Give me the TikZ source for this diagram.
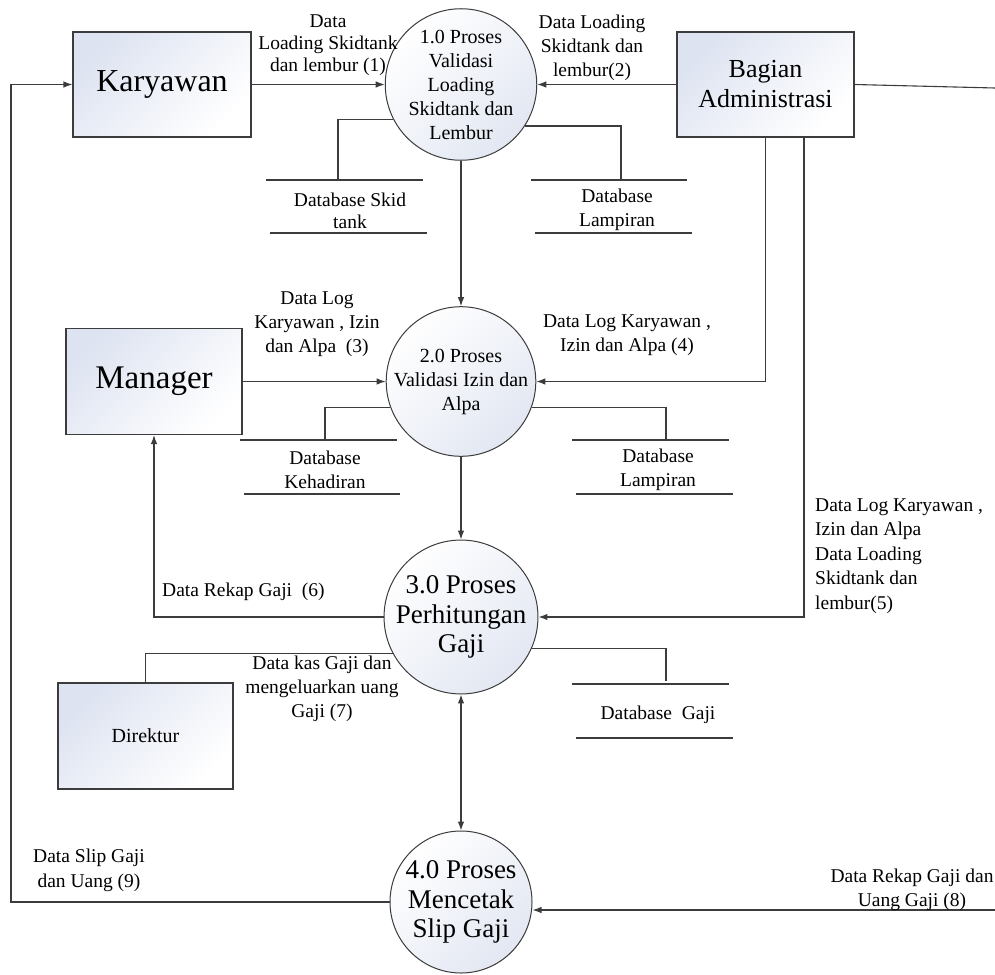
\documentclass[tikz,border=0pt]{standalone}
\usepackage{fontspec}
\setmainfont{Liberation Serif}
\usetikzlibrary{arrows.meta}
\definecolor{ln}{HTML}{3C3C3C}
\definecolor{boxblue}{HTML}{DDE3F1}
\definecolor{circblue}{HTML}{E2E7F2}
\begin{document}
\begin{tikzpicture}[x=1pt,y=-1pt,
  ent/.style={draw=ln, line width=1.1pt, top color=boxblue, bottom color=white, shading angle=45, align=center, inner sep=0pt},
  proc/.style={circle, draw=ln, line width=1pt, top color=white, bottom color=circblue, shading angle=45, align=center, inner sep=0pt, minimum size=144pt},
  lbl/.style={align=center, inner sep=0pt, font=\fontsize{19.5}{24}\selectfont},
  ptxt/.style={font=\fontsize{20}{24}\selectfont},
  pbig/.style={font=\fontsize{27}{29.5}\selectfont},
  flow/.style={draw=ln, line width=1.1pt, -{Latex[length=9pt,width=6.5pt]}},
  bflow/.style={draw=ln, line width=1.1pt, {Latex[length=9pt,width=6.5pt]}-{Latex[length=9pt,width=6.5pt]}},
  conn/.style={draw=ln, line width=1.1pt},
  storeline/.style={draw=ln, line width=1.3pt}
]
\useasboundingbox (0,0) rectangle (995,974);

% entities
\node[ent, minimum width=178pt, minimum height=105pt, font=\fontsize{32}{36}\selectfont] (kar) at (162,84.5) {Karyawan};
\node[ent, minimum width=177pt, minimum height=105pt, font=\fontsize{26}{30}\selectfont] (adm) at (765.5,84.5) {Bagian\\Administrasi};
\node[ent, minimum width=176pt, minimum height=106pt, font=\fontsize{33}{36}\selectfont] (man) at (154,381.5) {Manager};
\node[ent, minimum width=175pt, minimum height=106pt, font=\fontsize{20}{24}\selectfont] (dir) at (145.5,736) {Direktur};

% processes
\node[proc, ptxt] (c1) at (461,84.5) {1.0 Proses\\Validasi\\Loading\\Skidtank dan\\Lembur};
\node[proc, ptxt] (c2) at (461,381.5) {2.0 Proses\\Validasi Izin dan\\Alpa};
\node[proc, pbig, minimum size=143pt] (c3) at (461,617) {3.0 Proses\\Perhitungan\\Gaji};
\node[proc, pbig, minimum size=142pt] (c4) at (461,902) {4.0 Proses\\Mencetak\\Slip Gaji};

% data stores
\draw[storeline] (266,180) -- (423,180) (270,233) -- (427,233);
\node[lbl, font=\fontsize{19.5}{22}\selectfont] (s1) at (350,211) {Database Skid\\tank};
\draw[storeline] (531,180) -- (687,180) (535,233) -- (692,233);
\node[lbl, font=\fontsize{19.5}{24}\selectfont] (s2) at (617,210) {Database\\Lampiran};
\draw[storeline] (240,440) -- (397,440) (244,494) -- (400,494);
\node[lbl] (s3) at (325,470) {Database\\Kehadiran};
\draw[storeline] (572,440) -- (729,440) (576,494) -- (733,494);
\node[lbl] (s4) at (658,470) {Database\\Lampiran};
\draw[storeline] (572,684) -- (729,684) (576,738) -- (733,738);
\node[lbl] (s5) at (658,715) {Database\ \ Gaji};

\coordinate (s1t) at (338,180);
\coordinate (s2t) at (621,180);
\coordinate (s3t) at (325,440);
\coordinate (s4t) at (666,440);
\coordinate (s5t) at (666,681);

\draw[conn] (c1.207) -| (s1t);
\draw[conn] (c1.327) -| (s2t);
\draw[conn] (c2.200) -| (s3t);
\draw[conn] (c2.340) -| (s4t);
\draw[conn] (c3.336) -| (s5t);

% flows
\draw[flow] (kar.east) -- (c1.west);
\draw[flow] (adm.west) -- (c1.east);
\coordinate (offR) at (995,88);
\draw[conn] (adm.east) -- (offR);
\draw[flow] (c1.south) -- (c2.north);
\draw[flow] (c2.south) -- (c3.north);
\draw[bflow] (c3.south) -- (c4.north);
\draw[flow] (man.east) -- (c2.west);
\draw[flow] (adm.south) |- (c2.east);
\draw[flow] ([xshift=38.5pt]adm.south) |- (c3.east);
\draw[flow] (c3.west) -| (man.south);
\draw[conn] (c3.208) -| (dir.north);
\coordinate (lp) at (11,0);
\draw[flow] (c4.west) -- (c4.west -| lp) |- (kar.west);
\coordinate (r8) at (995,910);
\draw[flow] (r8) -- (r8 -| c4.east);

% labels
\node[lbl, font=\fontsize{19.5}{22}\selectfont] (l1) at (328,45) {Data\\Loading Skidtank\\dan lembur (1)};
\node[lbl] (l2) at (592,48) {Data Loading\\Skidtank dan\\lembur(2)};
\node[lbl] (l3) at (317,324) {Data Log\\Karyawan , Izin\\dan Alpa\ \ (3)};
\node[lbl] (l4) at (627,335) {Data Log Karyawan ,\\Izin dan Alpa (4)};
\node[lbl, align=left, anchor=west, font=\fontsize{19.5}{24.5}\selectfont] (l5) at (815,556) {Data Log Karyawan ,\\Izin dan Alpa\\Data Loading\\Skidtank dan\\lembur(5)};
\node[lbl, anchor=west] (l6) at (162,592) {Data Rekap Gaji\ \ (6)};
\node[lbl] (l7) at (322,689) {Data kas Gaji dan\\mengeluarkan uang\\Gaji (7)};
\node[lbl] (l8) at (912,890) {Data Rekap Gaji dan\\Uang Gaji (8)};
\node[lbl, font=\fontsize{19.5}{25}\selectfont] (l9) at (89,870) {Data Slip Gaji\\dan Uang (9)};
\end{tikzpicture}
\end{document}
